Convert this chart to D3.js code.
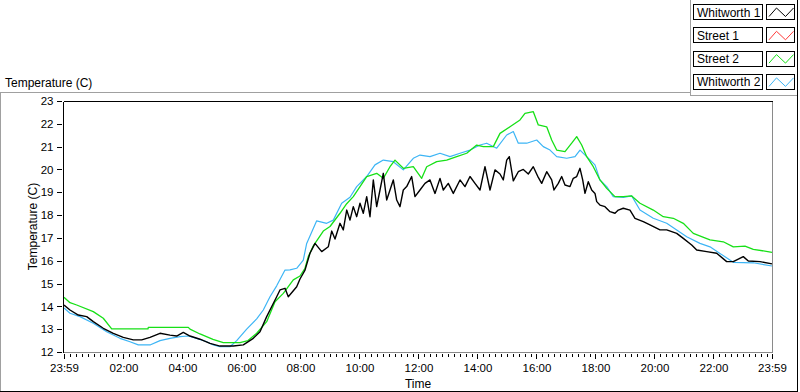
<!DOCTYPE html>
<html>
<head>
<meta charset="utf-8">
<script src="https://cdn.jsdelivr.net/npm/d3@7"></script>
<style>
  html, body { margin: 0; padding: 0; background: #ffffff; }
  svg { display: block; font-family: "Liberation Sans", Arial, sans-serif; }
</style>
</head>
<body>
<svg id="chart" width="800" height="392"></svg>
<script>
// ---------------- DATA ----------------
// time in decimal clock hours (start = 23:59 of the previous day = -1/60)
const seriesNames = ["Whitworth 1", "Street 1", "Street 2", "Whitworth 2"];
const seriesColors = ["#000000", "#ff3a3a", "#17e017", "#3db5f5"];

const whitworth1Time = [-0.017,0.186,0.468,0.753,0.976,1.315,1.654,1.993,2.332,2.617,2.898,3.237,3.576,3.803,4.027,4.254,4.593,4.932,5.271,5.722,6.061,6.400,6.627,6.854,7.193,7.305,7.475,7.586,7.871,7.983,8.153,8.322,8.492,8.719,8.942,9.058,9.170,9.339,9.451,9.566,9.678,9.790,9.905,10.017,10.129,10.244,10.356,10.468,10.583,10.695,10.807,10.922,11.034,11.146,11.261,11.373,11.485,11.600,11.769,11.881,12.051,12.220,12.390,12.559,12.729,12.841,13.010,13.180,13.407,13.576,13.746,13.915,14.085,14.254,14.424,14.593,14.763,14.875,14.990,15.078,15.214,15.383,15.553,15.722,15.892,16.061,16.176,16.346,16.515,16.593,16.739,16.854,16.966,17.136,17.247,17.363,17.475,17.566,17.644,17.756,17.871,17.983,18.041,18.152,18.322,18.492,18.661,18.773,18.942,19.169,19.339,19.620,19.847,20.186,20.414,20.753,20.976,21.261,21.431,21.770,22.108,22.447,22.671,23.010,23.180,23.576,23.983];
const whitworth1Temp = [14.06,13.84,13.62,13.55,13.33,13.04,12.82,12.64,12.53,12.53,12.64,12.82,12.74,12.70,12.86,12.70,12.56,12.38,12.26,12.26,12.31,12.60,12.89,13.55,14.42,14.72,14.79,14.42,14.86,15.20,15.59,16.33,16.76,16.40,16.61,17.30,16.95,17.64,17.35,18.22,17.78,18.37,17.93,18.52,18.08,18.81,17.93,19.54,18.37,19.10,19.83,18.66,19.10,19.54,18.66,18.37,19.10,19.25,19.69,18.81,19.10,19.39,19.54,18.95,19.61,19.10,19.39,18.95,19.54,19.25,19.69,19.39,19.10,20.12,19.10,19.98,19.80,19.54,20.41,20.56,19.50,19.90,20.00,19.80,20.12,19.65,19.39,19.90,19.54,19.10,19.39,19.69,19.32,19.25,19.61,19.69,20.05,19.54,18.95,19.46,19.10,18.95,18.59,18.44,18.37,18.15,18.08,18.22,18.30,18.22,17.86,17.71,17.57,17.35,17.35,17.20,16.98,16.69,16.47,16.40,16.33,15.96,15.96,16.18,15.99,15.96,15.86];

const street1Time = [];
const street1Temp = [];

const street2Time = [-0.017,0.186,0.414,0.976,1.315,1.600,2.831,2.841,4.197,4.254,4.593,5.034,5.383,5.949,6.220,6.515,6.854,7.136,7.417,7.756,7.983,8.153,8.264,8.434,8.773,9.000,9.339,9.566,9.790,10.017,10.244,10.583,10.807,11.034,11.203,11.485,11.824,12.108,12.278,12.617,12.956,13.295,13.634,13.973,14.197,14.536,14.763,15.102,15.441,15.610,15.892,16.061,16.346,16.515,16.685,16.966,17.193,17.363,17.532,17.702,17.925,18.152,18.380,18.661,18.942,19.227,19.508,19.959,20.298,20.637,20.976,21.315,21.881,22.332,22.671,23.068,23.349,23.983];
const street2Temp = [14.40,14.16,14.06,13.77,13.48,13.01,13.01,13.08,13.08,13.00,12.79,12.55,12.41,12.41,12.50,12.82,13.33,14.20,14.57,15.16,15.33,15.67,16.18,16.65,17.30,17.50,18.08,18.50,18.81,19.25,19.69,19.83,19.61,20.12,20.41,20.05,20.12,19.61,20.12,20.34,20.41,20.56,20.71,21.07,21.00,21.00,21.58,21.87,22.17,22.46,22.53,21.95,21.87,21.29,20.85,20.78,21.15,21.44,21.07,20.56,20.12,19.54,19.17,18.81,18.81,18.84,18.52,18.22,17.93,17.86,17.64,17.20,16.91,16.83,16.61,16.64,16.50,16.37];

const whitworth2Time = [-0.017,0.186,0.525,0.976,1.430,1.881,2.220,2.502,2.898,3.237,3.576,3.915,4.197,4.481,4.820,5.044,5.271,5.610,5.837,6.176,6.515,6.739,6.966,7.193,7.475,7.644,7.871,8.095,8.210,8.549,8.888,9.112,9.397,9.678,9.905,10.244,10.525,10.807,11.146,11.485,11.824,12.051,12.390,12.729,13.068,13.407,13.746,14.085,14.312,14.651,14.990,15.214,15.383,15.668,16.007,16.230,16.458,16.685,17.024,17.305,17.475,17.702,17.983,18.152,18.380,18.603,18.942,19.227,19.508,19.959,20.414,20.753,21.092,21.542,21.881,22.220,22.671,23.349,23.983];
const whitworth2Temp = [13.93,13.70,13.55,13.26,12.89,12.60,12.45,12.31,12.31,12.50,12.60,12.67,12.70,12.60,12.45,12.31,12.23,12.23,12.50,13.00,13.45,13.84,14.42,14.90,15.59,15.60,15.67,16.03,16.76,17.75,17.64,17.78,18.52,18.78,19.25,19.69,20.20,20.41,20.34,19.98,20.49,20.63,20.56,20.71,20.56,20.71,20.85,21.07,21.15,20.93,21.51,21.66,21.15,21.15,21.29,21.00,20.85,20.56,20.49,20.56,20.85,20.56,20.20,19.54,19.25,18.81,18.78,18.84,18.22,17.86,17.64,17.35,17.05,16.76,16.61,16.32,15.93,15.91,15.77];

const yTicks = [12,13,14,15,16,17,18,19,20,21,22,23];
const xMajorTicks = [-1/60, 2, 4, 6, 8, 10, 12, 14, 16, 18, 20, 22, 24 - 1/60];
const xTickLabels = ["23:59","02:00","04:00","06:00","08:00","10:00","12:00","14:00","16:00","18:00","20:00","22:00","23:59"];
const chartTitle = "Temperature (C)";
const yAxisTitle = "Temperature (C)";
const xAxisTitle = "Time";

// ---------------- DRAW ----------------
const svg = d3.select("#chart");
const plot = { left: 63.5, right: 772.5, top: 101.5, bottom: 352.5 };

const x = d3.scaleLinear().domain([-1/60, 24 - 1/60]).range([plot.left + 0.5, plot.right - 0.5]);
const y = d3.scaleLinear().domain([12, 23]).range([352, 101]);

// outer panel frame
const frame = svg.append("g").attr("shape-rendering", "crispEdges");
frame.append("line").attr("x1", 0).attr("x2", 690).attr("y1", 92.5).attr("y2", 92.5).attr("stroke", "#a0a0a0");
frame.append("line").attr("x1", 0.5).attr("x2", 0.5).attr("y1", 92).attr("y2", 391).attr("stroke", "#a0a0a0");
frame.append("line").attr("x1", 0).attr("x2", 798).attr("y1", 391.5).attr("y2", 391.5).attr("stroke", "#000");
frame.append("line").attr("x1", 797.5).attr("x2", 797.5).attr("y1", 0).attr("y2", 392).attr("stroke", "#000");
frame.append("line").attr("x1", 690.5).attr("x2", 690.5).attr("y1", 0).attr("y2", 95.5).attr("stroke", "#a0a0a0");
frame.append("line").attr("x1", 690).attr("x2", 797).attr("y1", 95.5).attr("y2", 95.5).attr("stroke", "#a0a0a0");

// plot area border (sunken)
frame.append("line").attr("x1", plot.left).attr("x2", plot.right).attr("y1", plot.top).attr("y2", plot.top).attr("stroke", "#000");
frame.append("line").attr("x1", plot.left).attr("x2", plot.left).attr("y1", plot.top).attr("y2", plot.bottom).attr("stroke", "#000");
frame.append("line").attr("x1", plot.right).attr("x2", plot.right).attr("y1", plot.top).attr("y2", plot.bottom + 0.5).attr("stroke", "#8a8a8a");
frame.append("line").attr("x1", plot.left).attr("x2", plot.right).attr("y1", plot.bottom).attr("y2", plot.bottom).attr("stroke", "#8a8a8a");

// title
svg.append("text").attr("x", 5).attr("y", 86.5).attr("font-size", 12).attr("fill", "#000").text(chartTitle);

// y axis
const yAxis = d3.axisLeft(y).tickValues(yTicks).tickSize(5).tickPadding(3.5).tickFormat(d3.format("d"));
const gy = svg.append("g").attr("transform", "translate(62,0)").call(yAxis);
gy.select(".domain").remove();
gy.selectAll("line").attr("stroke", "#000").attr("shape-rendering", "crispEdges");
gy.selectAll("text").attr("font-size", 11.5).attr("fill", "#000").attr("font-family", "Liberation Sans, Arial, sans-serif");

svg.append("text")
  .attr("transform", "translate(37," + ((101 + 352) / 2) + ") rotate(-90)")
  .attr("text-anchor", "middle").attr("font-size", 12).attr("fill", "#000").text(yAxisTitle);

// x axis: minor ticks
const minorTicks = d3.range(1, 120).map(k => k * 0.2).filter(v => Math.abs(v / 2 - Math.round(v / 2)) > 1e-6);
const xMinor = d3.axisBottom(x).tickValues(minorTicks).tickSize(3).tickFormat("");
const gxm = svg.append("g").attr("transform", "translate(0,354)").call(xMinor);
gxm.select(".domain").remove();
gxm.selectAll("line").attr("stroke", "#000").attr("shape-rendering", "crispEdges");

// x axis: major ticks + labels
const xMajor = d3.axisBottom(x).tickValues(xMajorTicks).tickSize(5).tickPadding(4.5)
  .tickFormat((d, i) => xTickLabels[i]);
const gx = svg.append("g").attr("transform", "translate(0,354)").call(xMajor);
gx.select(".domain").remove();
gx.selectAll("line").attr("stroke", "#000").attr("shape-rendering", "crispEdges");
gx.selectAll("text").attr("font-size", 11.5).attr("fill", "#000").attr("font-family", "Liberation Sans, Arial, sans-serif");

svg.append("text").attr("x", 418).attr("y", 388).attr("text-anchor", "middle")
  .attr("font-size", 12).attr("fill", "#000").text(xAxisTitle);

// series
const series = [
  { name: seriesNames[3], color: seriesColors[3], t: whitworth2Time, v: whitworth2Temp, w: 1.2 },
  { name: seriesNames[2], color: seriesColors[2], t: street2Time, v: street2Temp, w: 1.3 },
  { name: seriesNames[1], color: seriesColors[1], t: street1Time, v: street1Temp, w: 1.2 },
  { name: seriesNames[0], color: seriesColors[0], t: whitworth1Time, v: whitworth1Temp, w: 1.4 }
];
const line = d3.line().x(d => x(d[0])).y(d => y(d[1]));
const clip = svg.append("defs").append("clipPath").attr("id", "plotclip")
  .append("rect").attr("x", plot.left + 0.5).attr("y", plot.top + 0.5)
  .attr("width", plot.right - plot.left - 0.5).attr("height", plot.bottom - plot.top);
const gl = svg.append("g").attr("clip-path", "url(#plotclip)");
series.forEach(s => {
  const pts = s.t.map((t, i) => [t, s.v[i]]);
  if (!pts.length) return;
  gl.append("path").datum(pts).attr("d", line).attr("fill", "none")
    .attr("stroke", s.color).attr("stroke-width", s.w).attr("stroke-linejoin", "round");
});

// legend
const legend = svg.append("g");
const swatchShape = [[2.5, 12], [10, 3.5], [19, 12], [27, 3.5]];
const sx = d3.scaleLinear().domain([0, 28]).range([0, 28]);
seriesNames.forEach((name, i) => {
  const gy0 = 4.5 + i * 23.3;
  const g = legend.append("g").attr("transform", "translate(0," + gy0 + ")");
  g.append("rect").attr("x", 693.5).attr("y", 0).attr("width", 69).attr("height", 15)
    .attr("fill", "#fff").attr("stroke", "#000").attr("shape-rendering", "crispEdges");
  g.append("text").attr("x", 697).attr("y", 12).attr("font-size", 12).attr("fill", "#000").text(name);
  g.append("rect").attr("x", 766.5).attr("y", 0).attr("width", 28).attr("height", 15)
    .attr("fill", "#fff").attr("stroke", "#000").attr("shape-rendering", "crispEdges");
  g.append("path").datum(swatchShape)
    .attr("d", d3.line().x(d => 766.5 + sx(d[0])).y(d => d[1]))
    .attr("fill", "none").attr("stroke", seriesColors[i]).attr("stroke-width", 1);
});
</script>
</body>
</html>
